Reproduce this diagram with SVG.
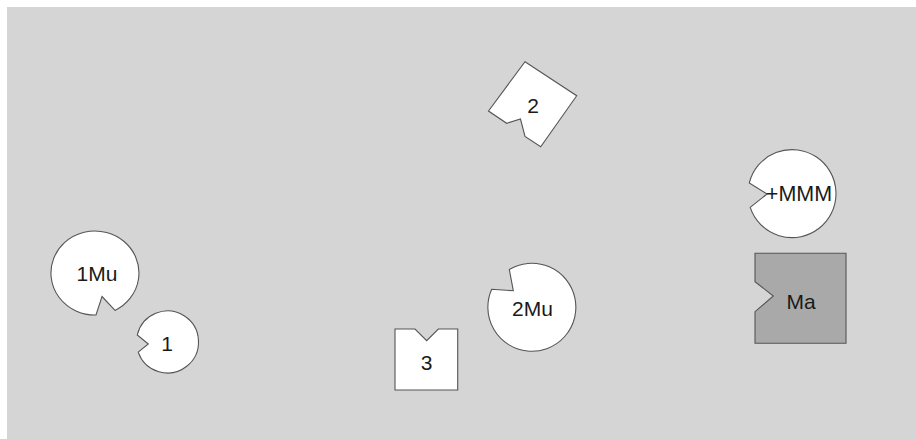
<svg xmlns="http://www.w3.org/2000/svg" width="916" height="439" viewBox="0 0 916 439">
  <style>
    .shape { fill: #ffffff; stroke: #555555; stroke-width: 1.1; }
    .dark { fill: #a9a9a9; }
    .label { font-family: "Liberation Sans", Arial, sans-serif; font-size: 21px; fill: #1a1a1a; text-anchor: middle; }
  </style>
  <rect x="0" y="0" width="916" height="439" fill="#ffffff"/>
  <rect x="7" y="7" width="909" height="432" fill="#d5d5d5"/>

  <g id="node-2">
    <path class="shape" d="M525,61.7 L576.7,95.7 L540.7,146.7 L525,136.5 L520.5,119 L506.7,123.3 L488.5,111 Z"/>
    <text class="label" x="533" y="112.8">2</text>
  </g>

  <g id="node-MMM">
    <path class="shape" d="M767,194 L749.3,182.9 A44,44 0 1 1 750.2,207.4 Z"/>
    <text class="label" x="799" y="200.8" style="font-size:21.5px">+MMM</text>
  </g>

  <g id="node-Ma">
    <path class="shape dark" d="M755,253.3 L846,253.3 L846,343.3 L755,343.3 L755,311.7 L773.3,296 L755,281.7 Z"/>
    <text class="label" x="801" y="309.3">Ma</text>
  </g>

  <g id="node-1Mu">
    <path class="shape" d="M102,296.5 L115,310.4 A44,42 0 1 0 96,315 Z"/>
    <text class="label" x="97" y="280.6">1Mu</text>
  </g>

  <g id="node-1">
    <path class="shape" d="M148.3,344 L137.3,335 A31,31 0 1 1 138.2,352.1 Z"/>
    <text class="label" x="167" y="350.8">1</text>
  </g>

  <g id="node-2Mu">
    <path class="shape" d="M513.3,290.7 L509.3,269.5 A44,44 0 1 1 491.7,289.3 Z"/>
    <text class="label" x="532.5" y="316.3">2Mu</text>
  </g>

  <g id="node-3">
    <path class="shape" d="M395,329 L415,329 L426.7,340.7 L438.3,329 L457.7,329 L457.7,390 L395,390 Z"/>
    <text class="label" x="426.7" y="369.8">3</text>
  </g>

  <g id="connectors"></g>
</svg>
